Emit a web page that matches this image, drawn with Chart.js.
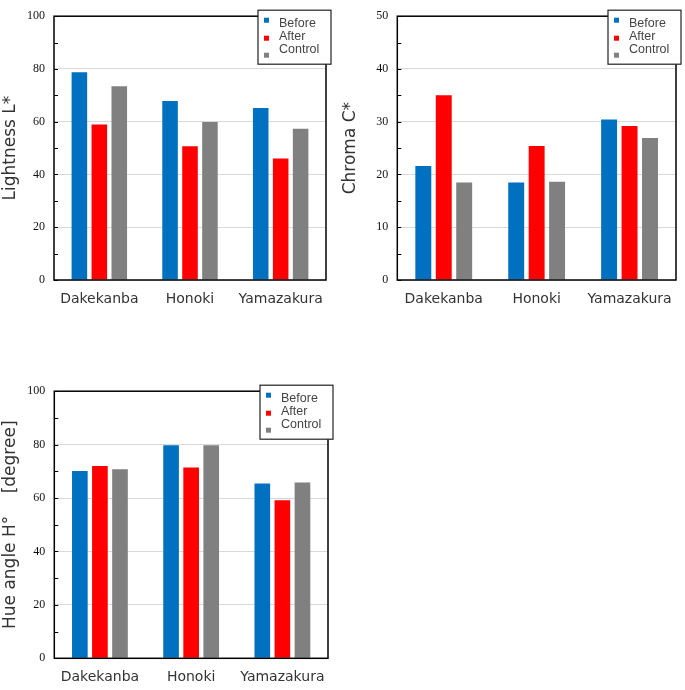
<!DOCTYPE html>
<html>
<head>
<meta charset="utf-8">
<script src="https://cdn.jsdelivr.net/npm/chart.js@4.4.1/dist/chart.umd.min.js"></script>
<style>
  body { margin: 0; background: #fff; width: 685px; height: 690px; position: relative; overflow: hidden; }
  canvas { position: absolute; }
</style>
</head>
<body>
<canvas id="chartL" width="340" height="310" style="left:0;top:0"></canvas>
<canvas id="chartC" width="345" height="310" style="left:340px;top:0"></canvas>
<canvas id="chartH" width="340" height="315" style="left:0;top:375px"></canvas>
<script>
// species on the x axis
const categories = ['Dakekanba', 'Honoki', 'Yamazakura'];
const seriesNames = ['Before', 'After', 'Control'];
const seriesColors = ['#0070C0', '#FF0000', '#808080'];

// Lightness L*
const lightnessBefore = [78.8, 67.9, 65.2];
const lightnessAfter = [58.9, 50.7, 46.1];
const lightnessControl = [73.4, 59.9, 57.3];

// Chroma C*
const chromaBefore = [21.6, 18.5, 30.4];
const chromaAfter = [35.0, 25.4, 29.2];
const chromaControl = [18.5, 18.6, 26.9];

// Hue angle H°
const hueBefore = [70.1, 79.8, 65.4];
const hueAfter = [72.0, 71.4, 59.2];
const hueControl = [70.8, 79.8, 65.8];

const sansFont = '"DejaVu Sans", "Noto Sans CJK JP", sans-serif';

// frame, inside minor ticks and the boxed legend
const framePlugin = {
    id: 'frameAndLegend',
    afterDatasetsDraw(chart) {
        const { ctx, chartArea: a } = chart;
        const y = chart.scales.y;
        const minor = chart.options.plugins.frameAndLegend.minorStep;
        ctx.save();
        ctx.strokeStyle = '#000';
        ctx.lineWidth = 1;
        ctx.beginPath();
        for (let v = y.min; v <= y.max; v += minor) {
            const py = Math.round(y.getPixelForValue(v)) + 0.5;
            ctx.moveTo(a.left, py);
            ctx.lineTo(a.left + 4, py);
        }
        ctx.stroke();
        ctx.lineWidth = 1.5;
        ctx.strokeRect(a.left, a.top, a.right - a.left, a.bottom - a.top);

        // legend box
        const bx = a.right - 68, by = a.top - 6;
        ctx.fillStyle = '#fff';
        ctx.fillRect(bx, by, 73, 54);
        ctx.lineWidth = 1.2;
        ctx.strokeStyle = '#222';
        ctx.strokeRect(bx, by, 73, 54);
        const sq = [10, 28, 45], tx = [13, 26, 39];
        chart.data.datasets.forEach((ds, i) => {
            ctx.fillStyle = ds.backgroundColor;
            ctx.fillRect(bx + 6, by + sq[i] - 2.5, 5, 5);
            ctx.fillStyle = '#444';
            ctx.font = '12.5px "Liberation Sans", Arial, sans-serif';
            ctx.textBaseline = 'middle';
            ctx.fillText(ds.label, bx + 21, by + tx[i]);
        });
        ctx.restore();
    }
};

function makeChart(id, title, values, yMax, step, minorStep, geo) {
    new Chart(document.getElementById(id), {
        type: 'bar',
        data: {
            labels: categories,
            datasets: values.map((v, i) => ({
                label: seriesNames[i],
                data: v,
                backgroundColor: seriesColors[i],
                borderWidth: 0,
                categoryPercentage: 0.66,
                barPercentage: 0.78
            }))
        },
        options: {
            responsive: false,
            animation: false,
            layout: { padding: { top: geo.top, right: geo.right, left: 0, bottom: 0 } },
            plugins: {
                legend: { display: false },
                tooltip: { enabled: false },
                frameAndLegend: { minorStep }
            },
            scales: {
                x: {
                    grid: { display: false, drawTicks: false },
                    border: { display: false },
                    ticks: {
                        padding: 11,
                        color: '#333',
                        autoSkip: false,
                        maxRotation: 0,
                        minRotation: 0,
                        font: { family: sansFont, size: 14 }
                    },
                    afterFit: s => { s.height = geo.xh; }
                },
                y: {
                    min: 0,
                    max: yMax,
                    grid: { color: '#d9d9d9', drawTicks: false },
                    border: { display: false },
                    ticks: {
                        stepSize: step,
                        padding: 9,
                        color: '#111',
                        font: { family: '"Liberation Serif", serif', size: 12 }
                    },
                    title: {
                        display: true,
                        text: title,
                        color: '#333',
                        padding: 0,
                        font: { family: sansFont, size: 17 }
                    },
                    afterFit: s => { s.width = geo.yw; }
                }
            }
        },
        plugins: [framePlugin]
    });
}

makeChart('chartL', 'Lightness L*', [lightnessBefore, lightnessAfter, lightnessControl], 100, 20, 10,
    { top: 12.5, right: 14, yw: 54, xh: 30 });
makeChart('chartC', 'Chroma C*', [chromaBefore, chromaAfter, chromaControl], 50, 10, 5,
    { top: 9, right: 9, yw: 57.3, xh: 30 });
makeChart('chartH', 'Hue angle H°　 [degree]', [hueBefore, hueAfter, hueControl], 100, 20, 10,
    { top: 12.3, right: 12, yw: 54.3, xh: 31.7 });
</script>
</body>
</html>
